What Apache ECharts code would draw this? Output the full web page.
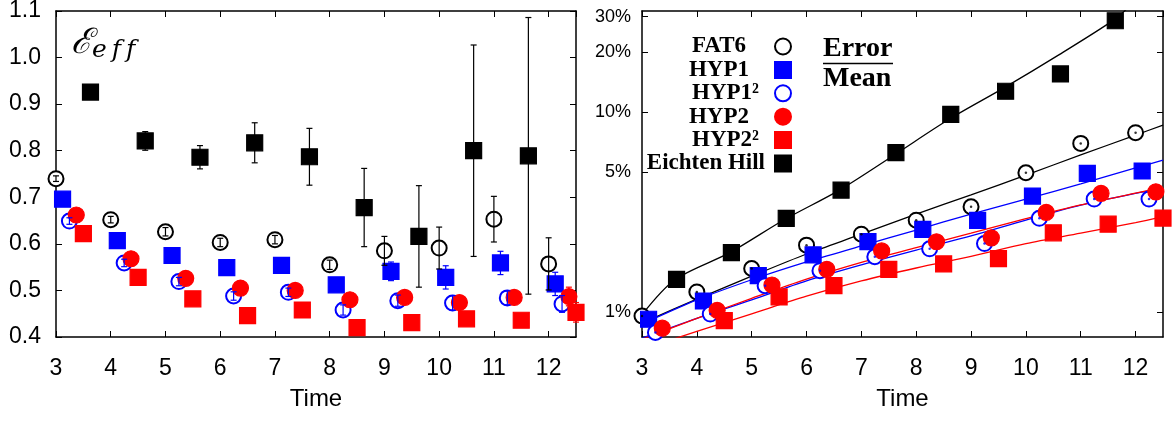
<!DOCTYPE html>
<html>
<head>
<meta charset="utf-8">
<script src="https://cdn.jsdelivr.net/npm/echarts@6/dist/echarts.min.js"></script>
<style>
html, body { margin: 0; padding: 0; background: #fff; }
#chart { width: 1174px; height: 421px; }
</style>
</head>
<body>
<div id="chart"></div>
<script>
/* global echarts */
// time slices (Eichten Hill stops at 11)
const times = [3, 4, 5, 6, 7, 8, 9, 10, 11, 12]
const ehTimes = [3, 4, 5, 6, 7, 8, 9, 10, 11]
const pctTicks = [1, 5, 10, 20, 30]

// left panel: E_eff with error bars (half widths)
const fat6Eff = [0.740, 0.652, 0.626, 0.603, 0.609, 0.555, 0.585, 0.591, 0.653, 0.557]
const fat6EffErr = [0.006, 0.007, 0.009, 0.009, 0.009, 0.010, 0.031, 0.045, 0.049, 0.056]
const hyp1Eff = [0.696, 0.607, 0.575, 0.549, 0.554, 0.512, 0.541, 0.528, 0.559, 0.514]
const hyp1EffErr = [0.004, 0.004, 0.004, 0.004, 0.004, 0.004, 0.020, 0.025, 0.025, 0.025]
const hyp1sqEff = [0.649, 0.559, 0.519, 0.488, 0.496, 0.458, 0.478, 0.473, 0.484, 0.471]
const hyp1sqEffErr = [0.007, 0.008, 0.009, 0.009, 0.009, 0.011, 0.012, 0.016, 0.015, 0.018]
const hyp2Eff = [0.662, 0.568, 0.526, 0.505, 0.500, 0.480, 0.485, 0.474, 0.485, 0.487]
const hyp2EffErr = [0.003, 0.003, 0.003, 0.003, 0.003, 0.004, 0.004, 0.005, 0.006, 0.020]
const hyp2sqEff = [0.622, 0.528, 0.482, 0.446, 0.458, 0.420, 0.431, 0.439, 0.436, 0.453]
const hyp2sqEffErr = [0.003, 0.003, 0.003, 0.003, 0.003, 0.004, 0.004, 0.005, 0.006, 0.021]
const ehEff = [0.926, 0.821, 0.786, 0.817, 0.787, 0.678, 0.616, 0.800, 0.789]
const ehEffErr = [0.004, 0.020, 0.025, 0.043, 0.061, 0.084, 0.109, 0.227, 0.297]

// right panel: Error / Mean in percent
const fat6Pct = [0.955, 1.26, 1.65, 2.16, 2.45, 2.88, 3.36, 4.97, 6.97, 7.88]
const hyp1Pct = [0.92, 1.135, 1.52, 1.93, 2.25, 2.59, 2.87, 3.80, 4.94, 5.07]
const hyp1sqPct = [0.79, 0.977, 1.354, 1.61, 1.89, 2.07, 2.2, 2.94, 3.67, 3.67]
const hyp2Pct = [0.83, 1.02, 1.365, 1.635, 2.02, 2.245, 2.35, 3.15, 3.92, 3.99]
const hyp2sqPct = [null, 0.905, 1.19, 1.354, 1.635, 1.74, 1.85, 2.49, 2.75, 2.95]
const ehPct = [1.457, 1.98, 2.94, 4.07, 6.26, 9.74, 12.7, 15.5, 28.6]

// fitted curves
const fitTimes = [3, 4, 5, 6, 7, 8, 9, 10, 11, 12, 12.5]
const fat6Fit = [0.88, 1.16, 1.51, 1.95, 2.45, 3.09, 3.85, 4.84, 6.1, 7.67, 8.6]
const hyp1Fit = [0.87, 1.15, 1.45, 1.78, 2.14, 2.57, 3.09, 3.67, 4.37, 5.25, 5.75]
const hyp1sqFit = [0.74, 0.93, 1.15, 1.43, 1.72, 2.04, 2.40, 2.88, 3.42, 3.92, 4.15]
const hyp2Fit = [0.73, 0.93, 1.17, 1.46, 1.77, 2.1, 2.48, 2.93, 3.43, 3.93, 4.2]
const hyp2sqFit = [0.65, 0.80, 0.98, 1.2, 1.43, 1.66, 1.9, 2.2, 2.48, 2.8, 3.0]
const ehFitTimes = [3, 3.6, 4.6, 5.6, 6.6, 7.6, 8.6, 9.6, 10.6, 11.6, 11.85]
const ehFit = [0.97, 1.45, 1.98, 2.9, 4.07, 6.1, 9.2, 13.2, 19.3, 28.8, 33]

// horizontal shift of each data set inside a time slice
const shift = { fat6: 0, hyp1: 0.12, hyp1sq: 0.245, hyp2: 0.37, hyp2sq: 0.5, eh: 0.63 }

const BLUE = '#0000ff'
const RED = '#ff0000'
const BLACK = '#000000'

function pts (xs, ys, dx) {
  const out = []
  ys.forEach((v, i) => { if (v != null) out.push([xs[i] + dx, v]) })
  return out
}
function bars (xs, ys, es, dx) {
  return ys.map((v, i) => [xs[i] + dx, v - es[i], v + es[i]])
}
function curve (xs, ys) {
  return ys.map((v, i) => [xs[i], v])
}

function errorBar (params, api) {
  const x = api.value(0)
  const lo = api.coord([x, api.value(1)])
  const hi = api.coord([x, api.value(2)])
  const style = { stroke: api.visual('color'), lineWidth: 1.2 }
  return {
    type: 'group',
    children: [
      { type: 'line', shape: { x1: lo[0], y1: lo[1], x2: hi[0], y2: hi[1] }, style },
      { type: 'line', shape: { x1: lo[0] - 3, y1: lo[1], x2: lo[0] + 3, y2: lo[1] }, style },
      { type: 'line', shape: { x1: hi[0] - 3, y1: hi[1], x2: hi[0] + 3, y2: hi[1] }, style }
    ]
  }
}

const marks = {
  FAT6: { symbol: 'emptyCircle', size: 15, color: BLACK },
  HYP1: { symbol: 'rect', size: 16, color: BLUE },
  'HYP1²': { symbol: 'emptyCircle', size: 15, color: BLUE },
  HYP2: { symbol: 'circle', size: 16, color: RED },
  'HYP2²': { symbol: 'rect', size: 16, color: RED },
  'Eichten Hill': { symbol: 'rect', size: 16, color: BLACK }
}

function scatter (name, data, xi, yi) {
  const m = marks[name]
  return {
    name,
    type: 'scatter',
    xAxisIndex: xi,
    yAxisIndex: yi,
    symbol: m.symbol,
    symbolSize: m.size,
    itemStyle: { color: m.color, borderColor: m.color, borderWidth: 1.2, opacity: 1 },
    data,
    z: 3
  }
}
function errs (color, data) {
  return {
    type: 'custom',
    xAxisIndex: 0,
    yAxisIndex: 0,
    renderItem: errorBar,
    itemStyle: { color },
    encode: { x: 0, y: [1, 2] },
    data,
    z: 4
  }
}
function fitLine (color, data) {
  return {
    type: 'line',
    xAxisIndex: 2,
    yAxisIndex: 2,
    smooth: 0.3,
    showSymbol: false,
    lineStyle: { color, width: 1.3 },
    data,
    z: 2
  }
}
function dots (color, data) {
  return {
    type: 'scatter',
    xAxisIndex: 2,
    yAxisIndex: 2,
    symbol: 'circle',
    symbolSize: 2.5,
    itemStyle: { color },
    silent: true,
    data,
    z: 5
  }
}

const labelFont = { fontFamily: 'Liberation Sans', color: '#000' }
const frame = { show: true, onZero: false, lineStyle: { color: '#000', width: 1.5 } }
const inTick = { show: true, inside: true, length: 6, lineStyle: { color: '#000', width: 1 } }

function timeAxes (grid) {
  return [
    {
      gridIndex: grid,
      type: 'value',
      min: 3,
      max: 12.5,
      interval: 1,
      position: 'bottom',
      axisLine: frame,
      axisTick: inTick,
      splitLine: { show: false },
      axisLabel: { ...labelFont, fontSize: 23, margin: 20, showMaxLabel: false },
      name: 'Time',
      nameLocation: 'middle',
      nameGap: 50,
      nameTextStyle: { ...labelFont, fontSize: 24 }
    },
    {
      gridIndex: grid,
      type: 'value',
      min: 3,
      max: 12.5,
      interval: 1,
      position: 'top',
      axisLine: frame,
      axisTick: inTick,
      splitLine: { show: false },
      axisLabel: { show: false }
    }
  ]
}

const chart = echarts.init(document.getElementById('chart'))

const option = {
  animation: false,
  backgroundColor: '#fff',
  grid: [
    { left: 56, top: 11, width: 520, height: 326, outerBoundsMode: 'none' },
    { left: 642, top: 11, width: 521, height: 326, outerBoundsMode: 'none' }
  ],
  xAxis: [...timeAxes(0), ...timeAxes(1)],
  yAxis: [
    {
      gridIndex: 0,
      type: 'value',
      min: 0.4,
      max: 1.1,
      interval: 0.1,
      position: 'left',
      axisLine: frame,
      axisTick: inTick,
      splitLine: { show: false },
      axisLabel: { ...labelFont, fontSize: 23, margin: 15, formatter: v => v.toFixed(1) }
    },
    {
      gridIndex: 0,
      type: 'value',
      min: 0.4,
      max: 1.1,
      interval: 0.1,
      position: 'right',
      axisLine: frame,
      axisTick: inTick,
      splitLine: { show: false },
      axisLabel: { show: false }
    },
    {
      gridIndex: 1,
      type: 'log',
      logBase: 10,
      min: 0.75,
      max: 32,
      position: 'left',
      axisLine: frame,
      axisTick: { ...inTick, customValues: pctTicks },
      minorTick: { show: false },
      splitLine: { show: false },
      axisLabel: { ...labelFont, fontSize: 18, margin: 11, customValues: pctTicks, formatter: v => Math.round(v) + '%' }
    },
    {
      gridIndex: 1,
      type: 'log',
      logBase: 10,
      min: 0.75,
      max: 32,
      position: 'right',
      axisLine: frame,
      axisTick: { ...inTick, customValues: pctTicks },
      splitLine: { show: false },
      axisLabel: { show: false }
    }
  ],
  legend: {
    data: [
      { name: 'FAT6', textStyle: { padding: [0, 24, 0, 0] } },
      { name: 'HYP1', textStyle: { padding: [0, 21, 0, 0] } },
      { name: 'HYP1²', textStyle: { padding: [0, 11, 0, 0] } },
      { name: 'HYP2', textStyle: { padding: [0, 21, 0, 0] } },
      { name: 'HYP2²', textStyle: { padding: [0, 11, 0, 0] } },
      { name: 'Eichten Hill', textStyle: { padding: [0, 5, 0, 0] } }
    ],
    orient: 'vertical',
    align: 'right',
    right: 377,
    top: 30,
    itemWidth: 16,
    itemHeight: 16,
    itemGap: 0.4,
    selectedMode: false,
    textStyle: { fontFamily: 'Liberation Serif', fontWeight: 'bold', fontSize: 23, lineHeight: 22, color: '#000' }
  },
  graphic: [
    {
      type: 'text',
      left: 71,
      top: 26,
      style: {
        text: '{e|ℰ}{s|e\u2009f\u2009f}',
        rich: {
          e: { fontFamily: 'DejaVu Serif', fontStyle: 'italic', fontSize: 35, fill: '#000' },
          s: { fontFamily: 'DejaVu Serif', fontStyle: 'italic', fontSize: 25, fill: '#000', padding: [14, 0, 0, 0] }
        }
      }
    },
    {
      type: 'text',
      left: 823,
      top: 35,
      style: { text: 'Error', fontFamily: 'Liberation Serif', fontWeight: 'bold', fontSize: 28, fill: '#000' }
    },
    {
      type: 'line',
      shape: { x1: 823, y1: 63.5, x2: 893, y2: 63.5 },
      style: { stroke: '#000', lineWidth: 1.5 }
    },
    {
      type: 'text',
      left: 823,
      top: 65,
      style: { text: 'Mean', fontFamily: 'Liberation Serif', fontWeight: 'bold', fontSize: 28, fill: '#000' }
    }
  ],
  series: [
    // right panel fits
    fitLine(BLACK, curve(ehFitTimes, ehFit)),
    fitLine(BLACK, curve(fitTimes, fat6Fit)),
    fitLine(BLUE, curve(fitTimes, hyp1Fit)),
    fitLine(BLUE, curve(fitTimes, hyp1sqFit)),
    fitLine(RED, curve(fitTimes, hyp2Fit)),
    fitLine(RED, curve(fitTimes, hyp2sqFit)),
    // right panel points
    scatter('FAT6', pts(times, fat6Pct, shift.fat6), 2, 2),
    scatter('HYP1', pts(times, hyp1Pct, shift.hyp1), 2, 2),
    scatter('HYP1²', pts(times, hyp1sqPct, shift.hyp1sq), 2, 2),
    scatter('HYP2', pts(times, hyp2Pct, shift.hyp2), 2, 2),
    scatter('HYP2²', pts(times, hyp2sqPct, shift.hyp2sq), 2, 2),
    scatter('Eichten Hill', pts(ehTimes, ehPct, shift.eh), 2, 2),
    dots(BLACK, pts(times, fat6Pct, shift.fat6)),
    dots(BLUE, pts(times, hyp1sqPct, shift.hyp1sq)),
    // left panel points and error bars
    scatter('FAT6', pts(times, fat6Eff, shift.fat6), 0, 0),
    errs(BLACK, bars(times, fat6Eff, fat6EffErr, shift.fat6)),
    scatter('HYP1', pts(times, hyp1Eff, shift.hyp1), 0, 0),
    errs(BLUE, bars(times, hyp1Eff, hyp1EffErr, shift.hyp1)),
    scatter('HYP1²', pts(times, hyp1sqEff, shift.hyp1sq), 0, 0),
    errs(BLUE, bars(times, hyp1sqEff, hyp1sqEffErr, shift.hyp1sq)),
    scatter('HYP2', pts(times, hyp2Eff, shift.hyp2), 0, 0),
    errs(RED, bars(times, hyp2Eff, hyp2EffErr, shift.hyp2)),
    scatter('HYP2²', pts(times, hyp2sqEff, shift.hyp2sq), 0, 0),
    errs(RED, bars(times, hyp2sqEff, hyp2sqEffErr, shift.hyp2sq)),
    errs(BLACK, bars(ehTimes, ehEff, ehEffErr, shift.eh)),
    scatter('Eichten Hill', pts(ehTimes, ehEff, shift.eh), 0, 0)
  ]
}

chart.setOption(option)

window.onresize = () => {
  chart.resize()
}
</script>
</body>
</html>
